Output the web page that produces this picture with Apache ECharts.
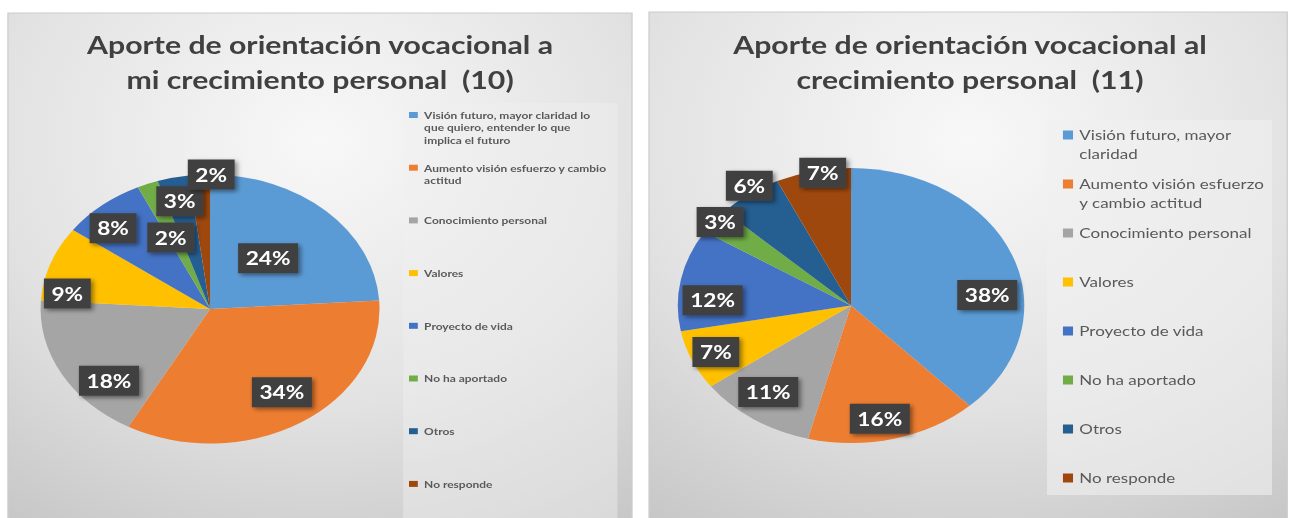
<!DOCTYPE html>
<html>
<head>
<meta charset="utf-8">
<title>Aporte de orientación vocacional</title>
<style>
  html, body { margin: 0; padding: 0; background: #ffffff; overflow: hidden; }
  /* the source picture is wider than tall by ~1.26, pies come out as ellipses,
     so the chart is laid out narrow and widened with css */
  #chart { width: 1023px; height: 518px; transform: scaleX(1.26002); transform-origin: 0 0; }
</style>
<script src="https://cdn.jsdelivr.net/npm/echarts@6/dist/echarts.min.js"></script>
</head>
<body>
<div id="chart"></div>
<script>
const COLORS = ['#5B9BD5', '#ED7D31', '#A5A5A5', '#FFC000', '#4472C4', '#70AD47', '#255E91', '#9E480E']

// chart (10)
const leftTitle = 'Aporte de orientación vocacional a\nmi crecimiento personal  (10)'
const leftNames = [
  'Visión futuro, mayor claridad lo que quiero, entender lo que implica el futuro',
  'Aumento visión esfuerzo y cambio actitud',
  'Conocimiento personal',
  'Valores',
  'Proyecto de vida',
  'No ha aportado',
  'Otros',
  'No responde'
]
const leftLegendText = [
  'Visión futuro, mayor claridad lo\nque quiero, entender lo que\nimplica el futuro',
  'Aumento visión esfuerzo y cambio\nactitud',
  'Conocimiento personal',
  'Valores',
  'Proyecto de vida',
  'No ha aportado',
  'Otros',
  'No responde'
]
const leftValues = [24, 34, 18, 9, 8, 2, 3, 2]

// chart (11)
const rightTitle = 'Aporte de orientación vocacional al\ncrecimiento personal  (11)'
const rightNames = [
  'Visión futuro, mayor claridad',
  'Aumento visión esfuerzo y cambio actitud',
  'Conocimiento personal',
  'Valores',
  'Proyecto de vida',
  'No ha aportado',
  'Otros',
  'No responde'
]
const rightLegendText = [
  'Visión futuro, mayor\nclaridad',
  'Aumento visión esfuerzo\ny cambio actitud',
  'Conocimiento personal',
  'Valores',
  'Proyecto de vida',
  'No ha aportado',
  'Otros',
  'No responde'
]
const rightValues = [38, 16, 11, 7, 12, 3, 6, 7]

// where the % boxes sit: share of the radius, and turn (deg) away from the slice middle
const leftLabelR = [0.51, 0.75, 0.80, 0.85, 0.83, 0.58, 0.82, 1.0]
const leftLabelTurn = [-1, -2, -13, -12, -4, -2, 0, 4]
const rightLabelR = [0.79, 0.84, 0.79, 0.85, 0.80, 0.97, 1.05, 0.98]
const rightLabelTurn = [16, 3, 3, 0, -8, 1, 2, 3]

const chart = echarts.init(document.getElementById('chart'), null, { renderer: 'svg' })

function panelFill() {
  return new echarts.graphic.RadialGradient(0.5, 0.25, 0.95, [
    { offset: 0, color: '#f8f8f8' },
    { offset: 0.55, color: '#e2e2e2' },
    { offset: 1, color: '#c3c3c3' }
  ])
}

// pads every legend entry to the same height, first line level with the square
function legendData(names, texts, lineH, maxLines) {
  return names.map((name, i) => {
    const n = texts[i].split('\n').length
    return {
      name: name,
      itemStyle: { color: COLORS[i] },
      textStyle: { padding: [(maxLines - 1) * lineH, 0, (maxLines - n) * lineH, 0] }
    }
  })
}

function legend(names, texts, opts) {
  return {
    orient: 'vertical',
    left: opts.left,
    top: opts.top,
    height: 450,
    padding: 0,
    itemGap: opts.gap,
    itemWidth: opts.itemWidth,
    itemHeight: opts.itemHeight,
    icon: 'rect',
    selectedMode: false,
    data: legendData(names, texts, opts.lineH, opts.maxLines),
    formatter: name => texts[names.indexOf(name)],
    textStyle: {
      fontFamily: 'Lato',
      fontSize: opts.fontSize,
      fontWeight: opts.fontWeight,
      lineHeight: opts.lineH,
      color: '#595959',
      backgroundColor: 'rgba(0,0,0,0)',
      // rich layout lets the top padding push the lines down
      rich: { t: {} }
    }
  }
}

function pie(names, values, center, radius, labR, labTurn) {
  return {
    type: 'pie',
    center: center,
    radius: radius,
    startAngle: 90,
    clockwise: true,
    avoidLabelOverlap: false,
    silent: true,
    data: names.map((name, i) => ({ name: name, value: values[i], itemStyle: { color: COLORS[i] } })),
    label: {
      show: true,
      position: 'inside',
      formatter: p => Math.round(p.percent) + '%',
      color: '#ffffff',
      fontFamily: 'Lato',
      fontWeight: 'bold',
      fontSize: 18,
      lineHeight: 22,
      backgroundColor: '#404040',
      padding: [4, 6],
      shadowColor: 'rgba(0,0,0,0.45)',
      shadowBlur: 4,
      shadowOffsetX: 2,
      shadowOffsetY: 2
    },
    labelLine: { show: false },
    labelLayout: function (p) {
      const cx = center[0]
      const cy = center[1]
      const lx = p.labelRect.x + p.labelRect.width / 2
      const ly = p.labelRect.y + p.labelRect.height / 2
      const a = Math.atan2(lx - cx, cy - ly) + labTurn[p.dataIndex] * Math.PI / 180
      const d = labR[p.dataIndex] * radius
      return { dx: cx + d * Math.sin(a) - lx, dy: cy - d * Math.cos(a) - ly }
    }
  }
}

const titleStyle = {
  fontFamily: 'Lato',
  fontSize: 24,
  fontWeight: 'bold',
  lineHeight: 35,
  color: '#404040'
}

chart.setOption({
  animation: false,
  graphic: [
    { type: 'rect', shape: { x: 6.3, y: 13, width: 495.3, height: 510 },
      style: { fill: panelFill(), stroke: '#cccccc', lineWidth: 1 } },
    { type: 'rect', shape: { x: 515.1, y: 12, width: 506.5, height: 510 },
      style: { fill: panelFill(), stroke: '#cccccc', lineWidth: 1 } },
    { type: 'rect', shape: { x: 320, y: 103, width: 170, height: 420 },
      style: { fill: 'rgba(240,240,240,0.45)' } },
    { type: 'rect', shape: { x: 831, y: 120, width: 178.5, height: 375 },
      style: { fill: 'rgba(240,240,240,0.6)' } }
  ],
  title: [
    { text: leftTitle, left: 254, top: 27, padding: 0, textAlign: 'center', textStyle: titleStyle },
    { text: rightTitle, left: 769.8, top: 27.5, padding: 0, textAlign: 'center', textStyle: titleStyle }
  ],
  legend: [
    legend(leftNames, leftLegendText, {
      left: 324.6, top: 83.75, gap: -9.8, itemWidth: 7, itemHeight: 6,
      lineH: 12.5, maxLines: 3, fontSize: 9.5, fontWeight: 'bold'
    }),
    legend(rightNames, rightLegendText, {
      left: 843.6, top: 107.25, gap: -6.5, itemWidth: 8, itemHeight: 9,
      lineH: 18.5, maxLines: 2, fontSize: 13.5, fontWeight: 'normal'
    })
  ],
  series: [
    pie(leftNames, leftValues, [166.7, 309], 134.5, leftLabelR, leftLabelTurn),
    pie(rightNames, rightValues, [675.4, 305.5], 137.5, rightLabelR, rightLabelTurn)
  ]
})
</script>
</body>
</html>
